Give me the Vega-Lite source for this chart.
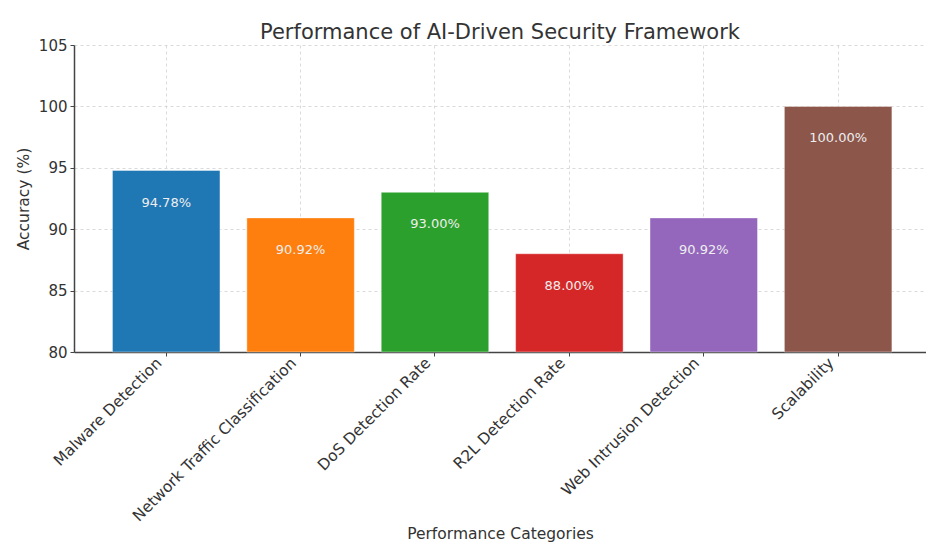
{
  "$schema": "https://vega.github.io/schema/vega-lite/v6.json",
  "autosize": "none",
  "width": 852,
  "height": 307,
  "padding": {"left": 74, "top": 45, "right": 0, "bottom": 193},
  "background": "white",
  "config": {
    "font": "DejaVu Sans",
    "view": {"stroke": null},
    "title": {"fontSize": 21, "fontWeight": "normal", "color": "#333333", "offset": -5}
  },
  "title": {"text": "Performance of AI-Driven Security Framework", "anchor": "middle"},
  "data": {
    "values": [
      {"category": "Malware Detection", "accuracy": 94.78, "label": "94.78%"},
      {"category": "Network Traffic Classification", "accuracy": 90.92, "label": "90.92%"},
      {"category": "DoS Detection Rate", "accuracy": 93.0, "label": "93.00%"},
      {"category": "R2L Detection Rate", "accuracy": 88.0, "label": "88.00%"},
      {"category": "Web Intrusion Detection", "accuracy": 90.92, "label": "90.92%"},
      {"category": "Scalability", "accuracy": 100.0, "label": "100.00%"}
    ]
  },
  "encoding": {
    "x": {
      "field": "category", "type": "nominal", "sort": null,
      "scale": {"paddingInner": 0.2, "paddingOuter": 0.27, "align": 0.53},
      "axis": {
        "title": "Performance Categories", "titleFontSize": 15.5, "titleFontWeight": "normal", "titleColor": "#333333",
        "titlePadding": 2,
        "labelAngle": -45, "labelAlign": "right", "labelBaseline": "middle", "labelFontSize": 15.5, "labelColor": "#333333",
        "labelPadding": 4, "labelOffset": -7, "labelLimit": 400,
        "bandPosition": 0.5,
        "grid": true, "gridDash": [3, 3], "gridColor": "#d0d0d0", "gridWidth": 0.8,
        "domainColor": "#444444", "domainWidth": 1.5, "tickColor": "#444444", "tickSize": 4
      }
    },
    "y": {
      "field": "accuracy", "type": "quantitative",
      "scale": {"domain": [80, 105], "zero": false, "clamp": true},
      "axis": {
        "title": "Accuracy (%)", "titleFontSize": 15.5, "titleFontWeight": "normal", "titleColor": "#333333",
        "titlePadding": 7,
        "values": [80, 85, 90, 95, 100, 105],
        "labelFontSize": 15, "labelColor": "#333333", "labelPadding": 3,
        "grid": true, "gridDash": [3, 3], "gridColor": "#d0d0d0", "gridWidth": 0.8,
        "domainColor": "#444444", "domainWidth": 1.5, "tickColor": "#444444", "tickSize": 4
      }
    }
  },
  "layer": [
    {
      "mark": {"type": "bar", "stroke": "white", "strokeOpacity": 0.4, "strokeWidth": 1},
      "encoding": {
        "y2": {"datum": 80},
        "color": {
          "field": "category", "type": "nominal", "sort": null, "legend": null,
          "scale": {"range": ["#1f77b4", "#ff7f0e", "#2ca02c", "#d62728", "#9467bd", "#8c564b"]}
        }
      }
    },
    {
      "mark": {"type": "text", "baseline": "middle", "align": "center", "dy": 32, "fontSize": 13, "color": "#eeeeee"},
      "encoding": {"text": {"field": "label"}}
    }
  ]
}
